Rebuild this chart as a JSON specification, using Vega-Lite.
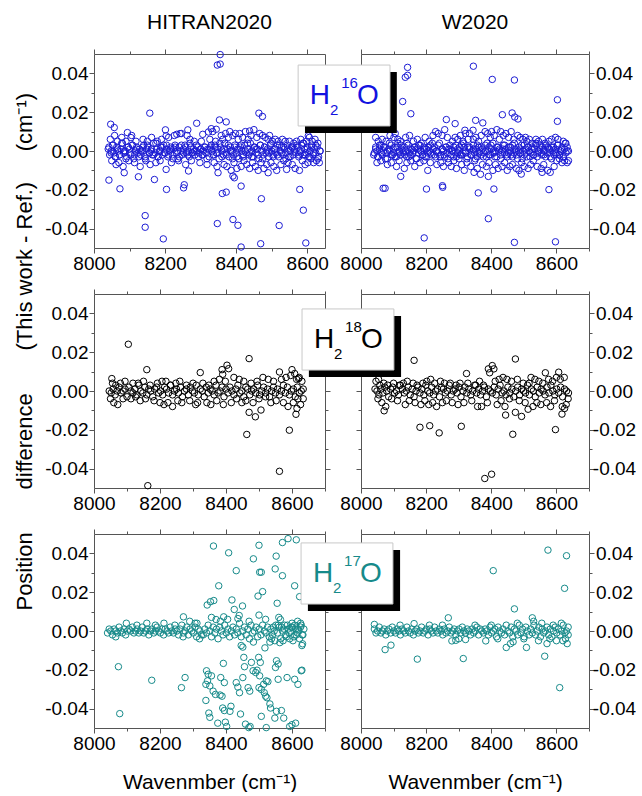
{
"$schema":"https://vega.github.io/schema/vega-lite/v6.json",
"background":"white",
"padding":{"left":13,"top":11,"right":0,"bottom":0},
"title":{"text":"Position\u00a0\u00a0\u00a0\u00a0\u00a0\u00a0\u00a0difference\u00a0\u00a0\u00a0\u00a0\u00a0\u00a0\u00a0(This work - Ref.)\u00a0\u00a0\u00a0\u00a0\u00a0(cm\u207b\u00b9)","orient":"left","anchor":"middle","fontSize":22,"fontWeight":"normal","font":"Liberation Sans","color":"black","offset":8,"dx":50},
"config":{"font":"Liberation Sans","view":{"stroke":null},
"axis":{"labelFont":"Liberation Sans","labelFontSize":19,"labelColor":"black","domainColor":"#555555","tickColor":"#555555","domainWidth":1,"tickWidth":1,"grid":false,"titleFont":"Liberation Sans","titleFontWeight":"normal","titleColor":"black","titleFontSize":21},
"title":{"font":"Liberation Sans","fontWeight":"normal","color":"black","fontSize":21}},
"datasets":{
"a":[{"w":8040,"d":0.001},{"w":8044,"d":-0.002},{"w":8048,"d":0},{"w":8052,"d":0.003},{"w":8056,"d":-0.001},{"w":8060,"d":-0.003},{"w":8064,"d":0.002},{"w":8068,"d":0},{"w":8072,"d":-0.002},{"w":8076,"d":0.001},
{"w":8080,"d":0.004},{"w":8084,"d":-0.001},{"w":8088,"d":0},{"w":8092,"d":-0.003},{"w":8096,"d":0.002},{"w":8100,"d":0.001},{"w":8104,"d":-0.002},{"w":8108,"d":0.003},{"w":8112,"d":-0.004},{"w":8116,"d":0},
{"w":8120,"d":0.002},{"w":8124,"d":-0.001},{"w":8128,"d":0.001},{"w":8132,"d":-0.002},{"w":8136,"d":0},{"w":8140,"d":0.003},{"w":8144,"d":-0.003},{"w":8148,"d":0.001},{"w":8152,"d":0.002},{"w":8156,"d":-0.001},
{"w":8160,"d":0},{"w":8164,"d":-0.002},{"w":8168,"d":0.004},{"w":8172,"d":-0.001},{"w":8176,"d":0.001},{"w":8180,"d":-0.003},{"w":8184,"d":0},{"w":8188,"d":0.002},{"w":8192,"d":-0.002},{"w":8196,"d":0.003},
{"w":8200,"d":-0.001},{"w":8204,"d":0.001},{"w":8208,"d":-0.003},{"w":8212,"d":0},{"w":8216,"d":0.002},{"w":8220,"d":-0.002},{"w":8224,"d":0.001},{"w":8228,"d":0.003},{"w":8232,"d":-0.001},{"w":8236,"d":-0.004},
{"w":8240,"d":0.002},{"w":8244,"d":0},{"w":8248,"d":-0.002},{"w":8252,"d":0.001},{"w":8256,"d":0.003},{"w":8260,"d":-0.001},{"w":8264,"d":0},{"w":8268,"d":-0.003},{"w":8272,"d":0.002},{"w":8276,"d":-0.001},
{"w":8280,"d":0.001},{"w":8284,"d":-0.002},{"w":8288,"d":0},{"w":8292,"d":0.002},{"w":8296,"d":-0.001},{"w":8300,"d":0.001},{"w":8304,"d":-0.002},{"w":8308,"d":0},{"w":8312,"d":0.002},{"w":8316,"d":-0.001},
{"w":8320,"d":0.001},{"w":8324,"d":-0.003},{"w":8328,"d":0.002},{"w":8332,"d":0},{"w":8336,"d":-0.002},{"w":8340,"d":0.003},{"w":8344,"d":-0.001},{"w":8348,"d":0.001},{"w":8352,"d":-0.004},{"w":8356,"d":0.002},
{"w":8360,"d":0},{"w":8364,"d":-0.002},{"w":8368,"d":0.004},{"w":8372,"d":-0.001},{"w":8376,"d":0.001},{"w":8380,"d":-0.003},{"w":8384,"d":0.002},{"w":8388,"d":0},{"w":8392,"d":-0.002},{"w":8396,"d":0.003},
{"w":8400,"d":-0.001},{"w":8404,"d":0.001},{"w":8408,"d":-0.004},{"w":8412,"d":0.002},{"w":8416,"d":0},{"w":8420,"d":-0.003},{"w":8424,"d":0.003},{"w":8428,"d":-0.001},{"w":8432,"d":0.001},{"w":8436,"d":-0.002},
{"w":8440,"d":0.004},{"w":8444,"d":0},{"w":8448,"d":-0.003},{"w":8452,"d":0.002},{"w":8456,"d":-0.001},{"w":8460,"d":0.001},{"w":8464,"d":-0.004},{"w":8468,"d":0.003},{"w":8472,"d":0},{"w":8476,"d":-0.002},
{"w":8480,"d":0.002},{"w":8484,"d":-0.001},{"w":8488,"d":0.001},{"w":8492,"d":-0.003},{"w":8496,"d":0.003},{"w":8500,"d":0},{"w":8504,"d":-0.002},{"w":8508,"d":0.001},{"w":8512,"d":-0.001},{"w":8516,"d":0.003},
{"w":8520,"d":-0.003},{"w":8524,"d":0},{"w":8528,"d":0.002},{"w":8532,"d":-0.002},{"w":8536,"d":0.001},{"w":8540,"d":-0.001},{"w":8544,"d":0.003},{"w":8548,"d":-0.003},{"w":8552,"d":0},{"w":8556,"d":0.002},
{"w":8560,"d":-0.002},{"w":8564,"d":0.001},{"w":8568,"d":-0.001},{"w":8572,"d":0.002},{"w":8576,"d":-0.003},{"w":8580,"d":0},{"w":8584,"d":0.003},{"w":8588,"d":-0.002},{"w":8592,"d":0.001},{"w":8596,"d":-0.001},
{"w":8600,"d":0.002},{"w":8604,"d":-0.003},{"w":8608,"d":0},{"w":8612,"d":0.003},{"w":8616,"d":-0.002},{"w":8620,"d":0.001},{"w":8624,"d":-0.001},{"w":8628,"d":0.002},{"w":8632,"d":-0.003},{"w":8636,"d":0},
{"w":8042,"d":0.002},{"w":8048,"d":-0.001},{"w":8054,"d":0.003},{"w":8060,"d":-0.003},{"w":8066,"d":0.001},{"w":8072,"d":-0.002},{"w":8078,"d":0.004},{"w":8084,"d":0},{"w":8090,"d":-0.004},{"w":8096,"d":0.002},
{"w":8102,"d":-0.001},{"w":8108,"d":0.003},{"w":8114,"d":-0.002},{"w":8120,"d":0.001},{"w":8126,"d":-0.003},{"w":8132,"d":0},{"w":8138,"d":0.002},{"w":8144,"d":-0.004},{"w":8150,"d":0.003},{"w":8156,"d":-0.001},
{"w":8162,"d":0.001},{"w":8168,"d":-0.002},{"w":8174,"d":0.004},{"w":8180,"d":-0.003},{"w":8186,"d":0},{"w":8192,"d":0.002},{"w":8198,"d":-0.001},{"w":8204,"d":0.003},{"w":8210,"d":-0.002},{"w":8216,"d":0.001},
{"w":8222,"d":-0.004},{"w":8228,"d":0.002},{"w":8234,"d":0},{"w":8240,"d":-0.003},{"w":8246,"d":0.003},{"w":8252,"d":-0.001},{"w":8258,"d":0.002},{"w":8264,"d":-0.002},{"w":8270,"d":0.004},{"w":8276,"d":-0.001},
{"w":8282,"d":0},{"w":8288,"d":0.003},{"w":8294,"d":-0.003},{"w":8300,"d":0.001},{"w":8306,"d":-0.002},{"w":8312,"d":0.002},{"w":8318,"d":-0.004},{"w":8324,"d":0.001},{"w":8330,"d":0.003},{"w":8336,"d":-0.002},
{"w":8342,"d":0.002},{"w":8348,"d":-0.001},{"w":8354,"d":0.004},{"w":8360,"d":-0.003},{"w":8366,"d":0.001},{"w":8372,"d":-0.002},{"w":8378,"d":0.003},{"w":8384,"d":0},{"w":8390,"d":-0.004},{"w":8396,"d":0.002},
{"w":8402,"d":-0.003},{"w":8408,"d":0.001},{"w":8414,"d":0.003},{"w":8420,"d":-0.002},{"w":8426,"d":0},{"w":8432,"d":0.004},{"w":8438,"d":-0.001},{"w":8444,"d":-0.003},{"w":8450,"d":0.002},{"w":8456,"d":0.001},
{"w":8462,"d":-0.002},{"w":8468,"d":0.003},{"w":8474,"d":-0.004},{"w":8480,"d":0.002},{"w":8486,"d":0},{"w":8492,"d":-0.001},{"w":8498,"d":0.004},{"w":8504,"d":-0.003},{"w":8510,"d":0.001},{"w":8516,"d":-0.002},
{"w":8522,"d":0.003},{"w":8528,"d":-0.001},{"w":8534,"d":0.002},{"w":8540,"d":-0.004},{"w":8546,"d":0.001},{"w":8552,"d":-0.003},{"w":8558,"d":0.002},{"w":8564,"d":0},{"w":8570,"d":0.003},{"w":8576,"d":-0.002},
{"w":8582,"d":-0.001},{"w":8588,"d":0.004},{"w":8594,"d":-0.002},{"w":8600,"d":0.001},{"w":8606,"d":-0.003},{"w":8612,"d":0.002},{"w":8618,"d":-0.001},{"w":8624,"d":0.003},{"w":8630,"d":-0.004},{"w":8636,"d":0},
{"w":8046,"d":0.006},{"w":8050,"d":-0.005},{"w":8058,"d":0.008},{"w":8062,"d":-0.007},{"w":8066,"d":0.005},{"w":8070,"d":-0.006},{"w":8078,"d":0.007},{"w":8082,"d":-0.008},{"w":8090,"d":0.005},{"w":8098,"d":-0.005},
{"w":8106,"d":0.008},{"w":8114,"d":-0.006},{"w":8118,"d":0.005},{"w":8130,"d":-0.008},{"w":8138,"d":0.006},{"w":8146,"d":-0.005},{"w":8150,"d":0.005},{"w":8158,"d":-0.007},{"w":8162,"d":0.007},{"w":8174,"d":-0.006},
{"w":8178,"d":0.005},{"w":8186,"d":-0.005},{"w":8190,"d":0.006},{"w":8210,"d":0.007},{"w":8218,"d":-0.006},{"w":8226,"d":0.008},{"w":8238,"d":-0.005},{"w":8242,"d":0.009},{"w":8246,"d":0.009},{"w":8258,"d":-0.007},
{"w":8262,"d":0.008},{"w":8270,"d":0.006},{"w":8274,"d":-0.005},{"w":8282,"d":0.005},{"w":8298,"d":-0.006},{"w":8302,"d":0.005},{"w":8318,"d":-0.007},{"w":8326,"d":0.006},{"w":8334,"d":0.01},{"w":8338,"d":-0.006},
{"w":8342,"d":0.005},{"w":8346,"d":-0.008},{"w":8358,"d":0.008},{"w":8362,"d":0.006},{"w":8366,"d":-0.007},{"w":8370,"d":0.009},{"w":8374,"d":-0.008},{"w":8378,"d":0.007},{"w":8382,"d":0.01},{"w":8386,"d":-0.01},
{"w":8390,"d":0.008},{"w":8394,"d":-0.006},{"w":8398,"d":0.009},{"w":8402,"d":-0.009},{"w":8406,"d":0.006},{"w":8410,"d":0.009},{"w":8414,"d":-0.008},{"w":8418,"d":0.007},{"w":8422,"d":-0.005},{"w":8426,"d":0.01},
{"w":8430,"d":-0.007},{"w":8434,"d":0.006},{"w":8438,"d":-0.009},{"w":8442,"d":0.008},{"w":8446,"d":-0.006},{"w":8450,"d":0.011},{"w":8454,"d":-0.008},{"w":8458,"d":0.007},{"w":8462,"d":-0.01},{"w":8466,"d":0.009},
{"w":8470,"d":-0.006},{"w":8474,"d":0.008},{"w":8478,"d":-0.009},{"w":8482,"d":0.007},{"w":8486,"d":-0.007},{"w":8490,"d":0.006},{"w":8494,"d":0.008},{"w":8498,"d":-0.006},{"w":8502,"d":0.005},{"w":8506,"d":-0.008},
{"w":8510,"d":0.006},{"w":8514,"d":-0.01},{"w":8518,"d":0.005},{"w":8526,"d":-0.007},{"w":8530,"d":0.006},{"w":8534,"d":-0.005},{"w":8538,"d":0.005},{"w":8546,"d":-0.006},{"w":8550,"d":0.005},{"w":8558,"d":-0.007},
{"w":8562,"d":0.004},{"w":8566,"d":-0.009},{"w":8570,"d":0.005},{"w":8578,"d":-0.01},{"w":8582,"d":0.006},{"w":8586,"d":-0.005},{"w":8590,"d":0.004},{"w":8594,"d":-0.007},{"w":8598,"d":0.005},{"w":8602,"d":-0.006},
{"w":8606,"d":0.007},{"w":8610,"d":-0.004},{"w":8614,"d":0.005},{"w":8618,"d":-0.006},{"w":8622,"d":0.006},{"w":8626,"d":-0.005},{"w":8630,"d":0.004},{"w":8634,"d":-0.006},
{"w":8042,"d":-0.015},{"w":8047,"d":0.0138},{"w":8057,"d":0.0121},{"w":8073,"d":-0.0195},{"w":8085,"d":-0.0112},{"w":8094,"d":0.0095},{"w":8104,"d":0.0069},{"w":8125,"d":-0.0133},{"w":8144,"d":-0.0333},{"w":8144,"d":-0.0393},
{"w":8157,"d":0.0195},{"w":8170,"d":-0.0147},{"w":8195,"d":-0.0453},{"w":8201,"d":0.0109},{"w":8203,"d":0.0078},{"w":8204,"d":-0.0198},{"w":8203,"d":-0.0095},{"w":8233,"d":0.0086},{"w":8252,"d":-0.019},{"w":8254,"d":-0.0174},
{"w":8264,"d":0.0109},{"w":8266,"d":-0.0103},{"w":8289,"d":0.0143},{"w":8306,"d":0.0086},{"w":8330,"d":0.0115},{"w":8344,"d":0.0112},{"w":8347,"d":-0.0374},{"w":8347,"d":0.0443},{"w":8355,"d":0.0448},{"w":8355,"d":0.0497},
{"w":8353,"d":0.016},{"w":8349,"d":-0.0112},{"w":8361,"d":-0.0219},{"w":8372,"d":-0.0212},{"w":8372,"d":0.015},{"w":8391,"d":-0.0129},{"w":8391,"d":-0.0353},{"w":8405,"d":-0.0383},{"w":8414,"d":-0.0181},{"w":8414,"d":-0.0495},
{"w":8438,"d":0.0103},{"w":8464,"d":0.0195},{"w":8474,"d":0.0178},{"w":8471,"d":-0.0246},{"w":8469,"d":-0.0478},{"w":8490,"d":-0.0112},{"w":8521,"d":-0.0384},{"w":8542,"d":-0.0095},{"w":8579,"d":-0.0198},{"w":8589,"d":-0.0305},
{"w":8596,"d":-0.0474},{"w":8603,"d":0.0078},{"w":8395,"d":-0.0138},{"w":8322,"d":0.0098}],
"b":[{"w":8041,"d":-0.001},{"w":8045,"d":0.002},{"w":8049,"d":0},{"w":8053,"d":-0.003},{"w":8057,"d":0.001},{"w":8061,"d":0.003},{"w":8065,"d":-0.002},{"w":8069,"d":0},{"w":8073,"d":0.002},{"w":8077,"d":-0.001},
{"w":8081,"d":-0.004},{"w":8085,"d":0.001},{"w":8089,"d":0},{"w":8093,"d":0.003},{"w":8097,"d":-0.002},{"w":8101,"d":-0.001},{"w":8105,"d":0.002},{"w":8109,"d":-0.003},{"w":8113,"d":0.004},{"w":8117,"d":0},
{"w":8121,"d":-0.002},{"w":8125,"d":0.001},{"w":8129,"d":-0.001},{"w":8133,"d":0.002},{"w":8137,"d":0},{"w":8141,"d":-0.003},{"w":8145,"d":0.003},{"w":8149,"d":-0.001},{"w":8153,"d":-0.002},{"w":8157,"d":0.001},
{"w":8161,"d":0},{"w":8165,"d":0.002},{"w":8169,"d":-0.004},{"w":8173,"d":0.001},{"w":8177,"d":-0.001},{"w":8181,"d":0.003},{"w":8185,"d":0},{"w":8189,"d":-0.002},{"w":8193,"d":0.002},{"w":8197,"d":-0.003},
{"w":8201,"d":0.001},{"w":8205,"d":-0.001},{"w":8209,"d":0},{"w":8213,"d":0.003},{"w":8217,"d":-0.002},{"w":8221,"d":0.001},{"w":8225,"d":0.002},{"w":8229,"d":-0.003},{"w":8233,"d":0},{"w":8237,"d":-0.001},
{"w":8241,"d":0.004},{"w":8245,"d":-0.002},{"w":8249,"d":0.001},{"w":8253,"d":0},{"w":8257,"d":-0.003},{"w":8261,"d":0.002},{"w":8265,"d":-0.001},{"w":8269,"d":0.001},{"w":8273,"d":0.003},{"w":8277,"d":-0.002},
{"w":8281,"d":0},{"w":8285,"d":0.002},{"w":8289,"d":-0.001},{"w":8293,"d":-0.003},{"w":8297,"d":0.001},{"w":8301,"d":0},{"w":8305,"d":-0.002},{"w":8309,"d":0.003},{"w":8313,"d":-0.001},{"w":8317,"d":0.002},
{"w":8321,"d":0},{"w":8325,"d":-0.004},{"w":8329,"d":0.002},{"w":8333,"d":0.001},{"w":8337,"d":-0.002},{"w":8341,"d":0},{"w":8345,"d":0.003},{"w":8349,"d":-0.001},{"w":8353,"d":0.001},{"w":8357,"d":-0.003},
{"w":8361,"d":0.002},{"w":8365,"d":0},{"w":8369,"d":-0.002},{"w":8373,"d":0.001},{"w":8377,"d":-0.001},{"w":8381,"d":0.003},{"w":8385,"d":-0.003},{"w":8389,"d":0},{"w":8393,"d":0.002},{"w":8397,"d":-0.002},
{"w":8401,"d":0.001},{"w":8405,"d":0.004},{"w":8409,"d":-0.001},{"w":8413,"d":0},{"w":8417,"d":-0.003},{"w":8421,"d":0.002},{"w":8425,"d":0.001},{"w":8429,"d":-0.002},{"w":8433,"d":0},{"w":8437,"d":0.003},
{"w":8441,"d":-0.001},{"w":8445,"d":0.001},{"w":8449,"d":-0.003},{"w":8453,"d":0.002},{"w":8457,"d":0},{"w":8461,"d":-0.002},{"w":8465,"d":0.003},{"w":8469,"d":-0.001},{"w":8473,"d":0.001},{"w":8477,"d":0},
{"w":8481,"d":-0.004},{"w":8485,"d":0.002},{"w":8489,"d":-0.001},{"w":8493,"d":0.003},{"w":8497,"d":0},{"w":8501,"d":-0.002},{"w":8505,"d":0.001},{"w":8509,"d":-0.003},{"w":8513,"d":0.002},{"w":8517,"d":0},
{"w":8521,"d":-0.001},{"w":8525,"d":0.002},{"w":8529,"d":-0.002},{"w":8533,"d":0.001},{"w":8537,"d":0.003},{"w":8541,"d":-0.003},{"w":8545,"d":0},{"w":8549,"d":0.001},{"w":8553,"d":-0.001},{"w":8557,"d":0.002},
{"w":8561,"d":-0.002},{"w":8565,"d":0},{"w":8569,"d":0.003},{"w":8573,"d":-0.001},{"w":8577,"d":0.001},{"w":8581,"d":-0.003},{"w":8585,"d":0.002},{"w":8589,"d":0},{"w":8593,"d":-0.002},{"w":8597,"d":0.001},
{"w":8601,"d":-0.001},{"w":8605,"d":0.003},{"w":8609,"d":-0.002},{"w":8613,"d":0},{"w":8617,"d":0.002},{"w":8621,"d":-0.003},{"w":8625,"d":0.001},{"w":8629,"d":-0.001},{"w":8633,"d":0.002},{"w":8637,"d":0},
{"w":8039,"d":-0.002},{"w":8045,"d":0.001},{"w":8051,"d":-0.003},{"w":8057,"d":0.003},{"w":8063,"d":-0.001},{"w":8069,"d":0.002},{"w":8075,"d":-0.004},{"w":8081,"d":0},{"w":8087,"d":0.004},{"w":8093,"d":-0.002},
{"w":8099,"d":0.001},{"w":8105,"d":-0.003},{"w":8111,"d":0.002},{"w":8117,"d":-0.001},{"w":8123,"d":0.003},{"w":8129,"d":0},{"w":8135,"d":-0.002},{"w":8141,"d":0.004},{"w":8147,"d":-0.003},{"w":8153,"d":0.001},
{"w":8159,"d":-0.001},{"w":8165,"d":0.002},{"w":8171,"d":-0.004},{"w":8177,"d":0.003},{"w":8183,"d":0},{"w":8189,"d":-0.002},{"w":8195,"d":0.001},{"w":8201,"d":-0.003},{"w":8207,"d":0.002},{"w":8213,"d":-0.001},
{"w":8219,"d":0.004},{"w":8225,"d":-0.002},{"w":8231,"d":0},{"w":8237,"d":0.003},{"w":8243,"d":-0.003},{"w":8249,"d":0.001},{"w":8255,"d":-0.002},{"w":8261,"d":0.002},{"w":8267,"d":-0.004},{"w":8273,"d":0.001},
{"w":8279,"d":0},{"w":8285,"d":-0.003},{"w":8291,"d":0.003},{"w":8297,"d":-0.001},{"w":8303,"d":0.002},{"w":8309,"d":-0.002},{"w":8315,"d":0.004},{"w":8321,"d":-0.001},{"w":8327,"d":-0.003},{"w":8333,"d":0.002},
{"w":8339,"d":-0.002},{"w":8345,"d":0.001},{"w":8351,"d":-0.004},{"w":8357,"d":0.003},{"w":8363,"d":-0.001},{"w":8369,"d":0.002},{"w":8375,"d":-0.003},{"w":8381,"d":0},{"w":8387,"d":0.004},{"w":8393,"d":-0.002},
{"w":8399,"d":0.003},{"w":8405,"d":-0.001},{"w":8411,"d":-0.003},{"w":8417,"d":0.002},{"w":8423,"d":0},{"w":8429,"d":-0.004},{"w":8435,"d":0.001},{"w":8441,"d":0.003},{"w":8447,"d":-0.002},{"w":8453,"d":-0.001},
{"w":8459,"d":0.002},{"w":8465,"d":-0.003},{"w":8471,"d":0.004},{"w":8477,"d":-0.002},{"w":8483,"d":0},{"w":8489,"d":0.001},{"w":8495,"d":-0.004},{"w":8501,"d":0.003},{"w":8507,"d":-0.001},{"w":8513,"d":0.002},
{"w":8519,"d":-0.003},{"w":8525,"d":0.001},{"w":8531,"d":-0.002},{"w":8537,"d":0.004},{"w":8543,"d":-0.001},{"w":8549,"d":0.003},{"w":8555,"d":-0.002},{"w":8561,"d":0},{"w":8567,"d":-0.003},{"w":8573,"d":0.002},
{"w":8579,"d":0.001},{"w":8585,"d":-0.004},{"w":8591,"d":0.002},{"w":8597,"d":-0.001},{"w":8603,"d":0.003},{"w":8609,"d":-0.002},{"w":8615,"d":0.001},{"w":8621,"d":-0.003},{"w":8627,"d":0.004},{"w":8633,"d":0},
{"w":8045,"d":0.007},{"w":8049,"d":-0.006},{"w":8053,"d":0.005},{"w":8061,"d":-0.005},{"w":8065,"d":0.006},{"w":8077,"d":0.005},{"w":8081,"d":-0.007},{"w":8089,"d":0.008},{"w":8093,"d":-0.006},{"w":8101,"d":0.007},
{"w":8105,"d":0.009},{"w":8109,"d":-0.008},{"w":8113,"d":0.006},{"w":8117,"d":-0.005},{"w":8121,"d":0.005},{"w":8133,"d":-0.009},{"w":8137,"d":0.007},{"w":8141,"d":-0.006},{"w":8149,"d":0.008},{"w":8153,"d":-0.005},
{"w":8161,"d":0.005},{"w":8165,"d":-0.008},{"w":8173,"d":0.006},{"w":8181,"d":-0.006},{"w":8185,"d":0.004},{"w":8193,"d":-0.005},{"w":8197,"d":0.007},{"w":8205,"d":-0.01},{"w":8209,"d":0.005},{"w":8213,"d":-0.006},
{"w":8221,"d":0.008},{"w":8229,"d":0.01},{"w":8233,"d":-0.007},{"w":8237,"d":0.009},{"w":8245,"d":-0.006},{"w":8249,"d":0.008},{"w":8253,"d":-0.008},{"w":8257,"d":0.011},{"w":8265,"d":0.007},{"w":8269,"d":-0.006},
{"w":8277,"d":-0.008},{"w":8281,"d":0.005},{"w":8285,"d":-0.005},{"w":8289,"d":0.007},{"w":8293,"d":-0.009},{"w":8297,"d":0.006},{"w":8301,"d":-0.004},{"w":8305,"d":0.008},{"w":8309,"d":-0.007},{"w":8313,"d":0.005},
{"w":8317,"d":-0.01},{"w":8321,"d":0.009},{"w":8325,"d":-0.006},{"w":8329,"d":0.006},{"w":8333,"d":0.009},{"w":8337,"d":-0.008},{"w":8345,"d":0.006},{"w":8349,"d":-0.005},{"w":8353,"d":0.007},{"w":8357,"d":-0.009},
{"w":8361,"d":0.005},{"w":8369,"d":0.008},{"w":8373,"d":-0.007},{"w":8381,"d":0.01},{"w":8385,"d":-0.008},{"w":8389,"d":0.009},{"w":8393,"d":-0.006},{"w":8397,"d":0.007},{"w":8401,"d":0.01},{"w":8405,"d":-0.01},
{"w":8409,"d":0.008},{"w":8413,"d":-0.007},{"w":8417,"d":0.011},{"w":8421,"d":-0.009},{"w":8425,"d":0.006},{"w":8429,"d":0.01},{"w":8433,"d":-0.008},{"w":8437,"d":0.008},{"w":8441,"d":-0.006},{"w":8445,"d":0.009},
{"w":8449,"d":-0.01},{"w":8453,"d":0.007},{"w":8457,"d":-0.008},{"w":8461,"d":0.01},{"w":8465,"d":-0.007},{"w":8469,"d":0.006},{"w":8477,"d":-0.009},{"w":8481,"d":0.008},{"w":8485,"d":-0.01},{"w":8489,"d":0.007},
{"w":8493,"d":-0.006},{"w":8497,"d":0.006},{"w":8501,"d":-0.008},{"w":8505,"d":0.007},{"w":8509,"d":0.005},{"w":8513,"d":-0.009},{"w":8517,"d":0.006},{"w":8521,"d":-0.007},{"w":8525,"d":0.004},{"w":8529,"d":-0.005},
{"w":8537,"d":0.006},{"w":8541,"d":-0.008},{"w":8545,"d":0.005},{"w":8553,"d":-0.009},{"w":8557,"d":0.006},{"w":8561,"d":-0.007},{"w":8565,"d":0.004},{"w":8573,"d":-0.01},{"w":8577,"d":0.005},{"w":8581,"d":-0.011},
{"w":8585,"d":0.006},{"w":8593,"d":-0.008},{"w":8597,"d":0.007},{"w":8601,"d":-0.005},{"w":8605,"d":0.006},{"w":8609,"d":-0.004},{"w":8617,"d":-0.006},{"w":8621,"d":0.005},{"w":8625,"d":-0.005},{"w":8629,"d":0.004},
{"w":8633,"d":-0.006},{"w":8637,"d":-0.005},
{"w":8143,"d":0.0431},{"w":8143,"d":0.039},{"w":8136,"d":0.038},{"w":8128,"d":0.0255},{"w":8153,"d":0.0192},{"w":8122,"d":-0.0131},{"w":8068,"d":-0.0192},{"w":8074,"d":-0.0192},{"w":8194,"d":-0.0448},{"w":8201,"d":-0.0196},
{"w":8250,"d":-0.0179},{"w":8251,"d":-0.0187},{"w":8262,"d":0.0162},{"w":8289,"d":0.0141},{"w":8319,"d":0.0107},{"w":8344,"d":0.0107},{"w":8345,"d":0.0437},{"w":8352,"d":0.0158},{"w":8374,"d":0.0145},{"w":8347,"d":-0.011},
{"w":8367,"d":-0.012},{"w":8360,"d":-0.0216},{"w":8391,"d":-0.0131},{"w":8391,"d":-0.0349},{"w":8403,"d":0.0369},{"w":8408,"d":-0.0196},{"w":8434,"d":0.0187},{"w":8464,"d":0.0196},{"w":8472,"d":0.0175},{"w":8482,"d":0.0165},
{"w":8471,"d":0.0366},{"w":8471,"d":-0.0471},{"w":8492,"d":-0.0119},{"w":8577,"d":-0.0199},{"w":8597,"d":-0.0468},{"w":8603,"d":0.0264},{"w":8603,"d":0.0153},{"w":8556,"d":-0.011}],
"c":[{"w":8046,"d":0},{"w":8052,"d":-0.001},{"w":8058,"d":0.001},{"w":8064,"d":-0.002},{"w":8070,"d":0},{"w":8076,"d":0.002},{"w":8082,"d":-0.001},{"w":8088,"d":0},{"w":8094,"d":0.001},{"w":8100,"d":-0.003},
{"w":8106,"d":0.002},{"w":8112,"d":0},{"w":8118,"d":-0.001},{"w":8124,"d":0.001},{"w":8130,"d":-0.002},{"w":8136,"d":0.003},{"w":8142,"d":0},{"w":8148,"d":-0.001},{"w":8154,"d":0.002},{"w":8160,"d":-0.002},
{"w":8166,"d":0.001},{"w":8172,"d":0},{"w":8178,"d":-0.003},{"w":8184,"d":0.001},{"w":8190,"d":0.002},{"w":8196,"d":-0.001},{"w":8202,"d":0},{"w":8208,"d":-0.002},{"w":8214,"d":0.002},{"w":8220,"d":0.001},
{"w":8226,"d":-0.001},{"w":8232,"d":0.003},{"w":8238,"d":-0.002},{"w":8244,"d":0},{"w":8250,"d":0.001},{"w":8256,"d":-0.001},{"w":8262,"d":0.002},{"w":8268,"d":-0.003},{"w":8274,"d":0},{"w":8280,"d":0.001},
{"w":8286,"d":-0.002},{"w":8292,"d":0.002},{"w":8298,"d":0},{"w":8304,"d":-0.001},{"w":8310,"d":0.003},{"w":8316,"d":-0.002},{"w":8322,"d":0.001},{"w":8328,"d":0},{"w":8334,"d":-0.003},{"w":8340,"d":0.002},
{"w":8346,"d":-0.001},{"w":8352,"d":0.001},{"w":8358,"d":0},{"w":8364,"d":-0.002},{"w":8370,"d":0.003},{"w":8376,"d":-0.001},{"w":8382,"d":0},{"w":8388,"d":0.002},{"w":8394,"d":-0.003},{"w":8400,"d":0.001},
{"w":8406,"d":-0.001},{"w":8412,"d":0.002},{"w":8418,"d":0},{"w":8424,"d":-0.002},{"w":8430,"d":0.001},{"w":8436,"d":0.003},{"w":8442,"d":-0.001},{"w":8448,"d":0},{"w":8454,"d":-0.003},{"w":8460,"d":0.002},
{"w":8466,"d":0.001},{"w":8472,"d":-0.002},{"w":8478,"d":0},{"w":8484,"d":0.001},{"w":8490,"d":-0.001},{"w":8496,"d":0.003},{"w":8502,"d":-0.002},{"w":8508,"d":0},{"w":8514,"d":0.002},{"w":8520,"d":-0.001},
{"w":8526,"d":0.001},{"w":8532,"d":-0.003},{"w":8538,"d":0},{"w":8544,"d":0.002},{"w":8550,"d":-0.001},{"w":8556,"d":0.001},{"w":8562,"d":-0.002},{"w":8568,"d":0},{"w":8574,"d":0.003},{"w":8580,"d":-0.001},
{"w":8586,"d":0.002},{"w":8592,"d":-0.002},{"w":8598,"d":0},{"w":8604,"d":0.001},{"w":8610,"d":-0.003},{"w":8616,"d":0.002},{"w":8622,"d":-0.001},{"w":8628,"d":0},{"w":8634,"d":0.001},
{"w":8050,"d":-0.004},{"w":8056,"d":0.004},{"w":8060,"d":-0.006},{"w":8066,"d":0.003},{"w":8072,"d":-0.007},{"w":8080,"d":0.004},{"w":8088,"d":-0.004},{"w":8094,"d":0.005},{"w":8112,"d":-0.004},{"w":8118,"d":0.004},
{"w":8126,"d":-0.003},{"w":8134,"d":0.004},{"w":8140,"d":-0.005},{"w":8150,"d":0.005},{"w":8156,"d":-0.004},{"w":8170,"d":0.003},{"w":8182,"d":-0.005},{"w":8192,"d":0.004},{"w":8200,"d":-0.006},{"w":8206,"d":0.005},
{"w":8212,"d":-0.007},{"w":8218,"d":0.005},{"w":8224,"d":-0.006},{"w":8232,"d":0.003},{"w":8238,"d":-0.008},{"w":8248,"d":0.004},{"w":8254,"d":-0.005},{"w":8260,"d":0.005},{"w":8266,"d":-0.006},{"w":8280,"d":0.003},
{"w":8290,"d":-0.005},{"w":8300,"d":0.004},{"w":8308,"d":-0.007},{"w":8314,"d":-0.006},{"w":8330,"d":0.004},{"w":8342,"d":-0.006},{"w":8348,"d":0.003},{"w":8354,"d":-0.007},{"w":8364,"d":0.005},{"w":8372,"d":-0.005},
{"w":8380,"d":0.006},{"w":8392,"d":-0.007},{"w":8398,"d":0.005},{"w":8416,"d":-0.006},{"w":8424,"d":0.007},{"w":8432,"d":-0.004},{"w":8440,"d":0.006},{"w":8448,"d":-0.006},{"w":8454,"d":0.005},{"w":8460,"d":-0.005},
{"w":8476,"d":0.004},{"w":8482,"d":-0.006},{"w":8494,"d":0.005},{"w":8500,"d":-0.004},{"w":8512,"d":0.007},{"w":8520,"d":-0.003},{"w":8528,"d":0.006},{"w":8536,"d":-0.006},{"w":8544,"d":0.005},{"w":8552,"d":-0.005},
{"w":8568,"d":0.006},{"w":8574,"d":-0.006},{"w":8582,"d":0.007},{"w":8588,"d":-0.008},{"w":8596,"d":0.008},{"w":8604,"d":-0.006},{"w":8608,"d":0.009},{"w":8614,"d":0.006},{"w":8618,"d":-0.004},{"w":8622,"d":0.007},
{"w":8626,"d":-0.007},{"w":8630,"d":0.005},{"w":8634,"d":-0.004},
{"w":8054,"d":0.0064},{"w":8104,"d":0.0241},{"w":8160,"d":0.011},{"w":8163,"d":-0.0488},{"w":8322,"d":0.0095},{"w":8388,"d":0.011},{"w":8390,"d":0.0086},{"w":8403,"d":0.0133},{"w":8408,"d":0.0115},{"w":8470,"d":0.0167},
{"w":8463,"d":-0.0224},{"w":8470,"d":-0.011},{"w":8489,"d":-0.0133},{"w":8506,"d":-0.0098},{"w":8562,"d":-0.0414},{"w":8562,"d":0.0098},{"w":8592,"d":-0.0202},{"w":8600,"d":0.011},{"w":8612,"d":-0.012},{"w":8615,"d":-0.009},
{"w":8620,"d":0.0064}],
"d":[{"w":8043,"d":0.001},{"w":8049,"d":0},{"w":8055,"d":-0.002},{"w":8061,"d":0.001},{"w":8067,"d":-0.001},{"w":8073,"d":0.002},{"w":8079,"d":0},{"w":8085,"d":-0.003},{"w":8091,"d":0.001},{"w":8097,"d":0.002},
{"w":8103,"d":-0.001},{"w":8109,"d":0},{"w":8115,"d":-0.002},{"w":8121,"d":0.003},{"w":8127,"d":0.001},{"w":8133,"d":-0.001},{"w":8139,"d":0},{"w":8145,"d":0.002},{"w":8151,"d":-0.002},{"w":8157,"d":0.001},
{"w":8163,"d":-0.003},{"w":8169,"d":0},{"w":8175,"d":0.002},{"w":8181,"d":-0.001},{"w":8187,"d":0.001},{"w":8193,"d":-0.002},{"w":8199,"d":0.003},{"w":8205,"d":0},{"w":8211,"d":-0.001},{"w":8217,"d":0.002},
{"w":8223,"d":-0.002},{"w":8229,"d":0},{"w":8235,"d":0.001},{"w":8241,"d":-0.003},{"w":8247,"d":0.002},{"w":8253,"d":0.001},{"w":8259,"d":-0.001},{"w":8265,"d":0},{"w":8271,"d":0.003},{"w":8277,"d":-0.002},
{"w":8283,"d":0},{"w":8289,"d":0.001},{"w":8295,"d":-0.001},{"w":8301,"d":0.002},{"w":8307,"d":-0.003},{"w":8313,"d":0},{"w":8319,"d":0.002},{"w":8325,"d":-0.001},{"w":8331,"d":0.001},{"w":8337,"d":-0.002},
{"w":8343,"d":0},{"w":8349,"d":0.003},{"w":8355,"d":-0.001},{"w":8361,"d":0.001},{"w":8367,"d":-0.002},{"w":8373,"d":0},{"w":8379,"d":0.002},{"w":8385,"d":-0.003},{"w":8391,"d":0.001},{"w":8397,"d":0},
{"w":8403,"d":-0.001},{"w":8409,"d":0.002},{"w":8415,"d":-0.002},{"w":8421,"d":0.001},{"w":8427,"d":0.003},{"w":8433,"d":-0.001},{"w":8439,"d":0},{"w":8445,"d":-0.002},{"w":8451,"d":0.002},{"w":8457,"d":-0.001},
{"w":8463,"d":0.001},{"w":8469,"d":-0.003},{"w":8475,"d":0},{"w":8481,"d":0.002},{"w":8487,"d":-0.002},{"w":8493,"d":0.001},{"w":8499,"d":0},{"w":8505,"d":-0.001},{"w":8511,"d":0.003},{"w":8517,"d":-0.002},
{"w":8523,"d":0.001},{"w":8529,"d":0},{"w":8535,"d":-0.003},{"w":8541,"d":0.002},{"w":8547,"d":-0.001},{"w":8553,"d":0.001},{"w":8559,"d":0},{"w":8565,"d":-0.002},{"w":8571,"d":0.002},{"w":8577,"d":-0.001},
{"w":8583,"d":0.003},{"w":8589,"d":0},{"w":8595,"d":-0.002},{"w":8601,"d":0.001},{"w":8607,"d":-0.001},{"w":8613,"d":0.002},{"w":8619,"d":-0.003},{"w":8625,"d":0.001},{"w":8631,"d":0},{"w":8637,"d":-0.001},
{"w":8046,"d":0.005},{"w":8052,"d":-0.004},{"w":8058,"d":0.003},{"w":8064,"d":-0.006},{"w":8070,"d":0.004},{"w":8076,"d":-0.008},{"w":8082,"d":0.003},{"w":8094,"d":-0.004},{"w":8100,"d":0.004},{"w":8112,"d":-0.005},
{"w":8118,"d":0.003},{"w":8130,"d":0.004},{"w":8136,"d":-0.007},{"w":8142,"d":0.005},{"w":8148,"d":-0.005},{"w":8160,"d":0.004},{"w":8166,"d":-0.006},{"w":8172,"d":0.003},{"w":8184,"d":-0.007},{"w":8190,"d":0.004},
{"w":8196,"d":-0.005},{"w":8202,"d":0.005},{"w":8208,"d":-0.007},{"w":8214,"d":0.006},{"w":8220,"d":-0.006},{"w":8226,"d":0.004},{"w":8232,"d":-0.008},{"w":8244,"d":0.005},{"w":8250,"d":-0.006},{"w":8256,"d":0.004},
{"w":8262,"d":-0.005},{"w":8274,"d":0.004},{"w":8280,"d":-0.006},{"w":8292,"d":0.003},{"w":8298,"d":-0.007},{"w":8304,"d":0.004},{"w":8316,"d":-0.006},{"w":8328,"d":0.004},{"w":8340,"d":-0.005},{"w":8352,"d":0.003},
{"w":8358,"d":-0.008},{"w":8364,"d":0.005},{"w":8370,"d":-0.008},{"w":8376,"d":0.003},{"w":8388,"d":-0.006},{"w":8412,"d":0.005},{"w":8418,"d":-0.007},{"w":8424,"d":0.006},{"w":8430,"d":-0.005},{"w":8436,"d":0.007},
{"w":8442,"d":-0.008},{"w":8448,"d":0.006},{"w":8456,"d":-0.004},{"w":8462,"d":0.005},{"w":8480,"d":0.006},{"w":8486,"d":-0.005},{"w":8498,"d":0.004},{"w":8504,"d":-0.006},{"w":8516,"d":0.004},{"w":8522,"d":0.007},
{"w":8528,"d":-0.008},{"w":8534,"d":0.006},{"w":8540,"d":-0.006},{"w":8546,"d":0.005},{"w":8552,"d":-0.007},{"w":8558,"d":0.004},{"w":8570,"d":-0.006},{"w":8576,"d":0.006},{"w":8582,"d":-0.008},{"w":8588,"d":0.005},
{"w":8594,"d":-0.005},{"w":8600,"d":0.007},{"w":8612,"d":0.006},{"w":8618,"d":-0.008},{"w":8624,"d":0.007},{"w":8630,"d":-0.007},{"w":8636,"d":-0.004},
{"w":8054,"d":0.006},{"w":8163,"d":0.0158},{"w":8071,"d":-0.0102},{"w":8181,"d":-0.0187},{"w":8211,"d":-0.0179},{"w":8240,"d":-0.0216},{"w":8308,"d":-0.0182},{"w":8324,"d":0.009},{"w":8391,"d":0.0114},{"w":8395,"d":0.0094},
{"w":8403,"d":0.0131},{"w":8408,"d":0.0114},{"w":8380,"d":-0.0451},{"w":8401,"d":-0.0429},{"w":8444,"d":-0.0124},{"w":8474,"d":0.0165},{"w":8466,"d":-0.0223},{"w":8474,"d":-0.011},{"w":8493,"d":-0.0131},{"w":8513,"d":-0.0094},
{"w":8597,"d":-0.0199},{"w":8617,"d":-0.0119},{"w":8566,"d":0.0094},{"w":8607,"d":0.0097},{"w":8625,"d":-0.009}],
"e":[{"w":8041,"d":-0.001},{"w":8046,"d":0.001},{"w":8051,"d":0},{"w":8056,"d":-0.002},{"w":8061,"d":0.001},{"w":8066,"d":0},{"w":8071,"d":-0.001},{"w":8076,"d":0.002},{"w":8081,"d":0},{"w":8086,"d":-0.001},
{"w":8091,"d":0.001},{"w":8096,"d":-0.002},{"w":8101,"d":0},{"w":8106,"d":0.001},{"w":8111,"d":0},{"w":8116,"d":0.002},{"w":8121,"d":-0.001},{"w":8126,"d":0},{"w":8131,"d":0.001},{"w":8136,"d":-0.001},
{"w":8141,"d":0},{"w":8146,"d":0.002},{"w":8151,"d":-0.001},{"w":8156,"d":0},{"w":8161,"d":0.001},{"w":8166,"d":-0.002},{"w":8171,"d":0},{"w":8176,"d":0.001},{"w":8181,"d":-0.001},{"w":8186,"d":0},
{"w":8191,"d":0.002},{"w":8196,"d":0},{"w":8201,"d":-0.001},{"w":8206,"d":0.001},{"w":8211,"d":-0.002},{"w":8216,"d":0.001},{"w":8221,"d":0},{"w":8226,"d":-0.001},{"w":8231,"d":0.002},{"w":8236,"d":0},
{"w":8241,"d":-0.001},{"w":8246,"d":0.001},{"w":8251,"d":0},{"w":8256,"d":-0.002},{"w":8261,"d":0.001},{"w":8266,"d":0.003},{"w":8271,"d":-0.001},{"w":8276,"d":0},{"w":8281,"d":0.002},{"w":8286,"d":-0.002},
{"w":8291,"d":0.001},{"w":8296,"d":0},{"w":8301,"d":-0.001},{"w":8306,"d":0.002},{"w":8311,"d":-0.003},{"w":8316,"d":0.001},{"w":8321,"d":0},{"w":8326,"d":-0.002},
{"w":8098,"d":0.004},{"w":8160,"d":0.004},{"w":8212,"d":0.004},{"w":8245,"d":0.003},{"w":8290,"d":0.005},{"w":8306,"d":0.004},{"w":8320,"d":-0.004},{"w":8312,"d":0.004},{"w":8270,"d":-0.003},{"w":8066,"d":-0.003},{"w":8130,"d":0.003},{"w":8186,"d":0.003},
{"w":8331,"d":-0.002},{"w":8336,"d":0.001},{"w":8341,"d":-0.001},{"w":8346,"d":0.003},{"w":8351,"d":0},{"w":8356,"d":-0.003},{"w":8361,"d":0.002},{"w":8366,"d":-0.001},{"w":8371,"d":0.001},{"w":8376,"d":-0.004},
{"w":8381,"d":0.002},{"w":8386,"d":0},{"w":8391,"d":-0.002},{"w":8396,"d":0.003},{"w":8401,"d":-0.001},{"w":8406,"d":0.001},{"w":8411,"d":-0.003},{"w":8416,"d":0},{"w":8421,"d":0.002},{"w":8426,"d":-0.002},
{"w":8431,"d":0.001},{"w":8436,"d":-0.001},{"w":8441,"d":0.004},{"w":8446,"d":-0.003},{"w":8451,"d":0},{"w":8456,"d":0.002},{"w":8461,"d":-0.002},{"w":8466,"d":0.001},{"w":8471,"d":-0.004},{"w":8476,"d":0.003},
{"w":8481,"d":-0.001},{"w":8486,"d":0},{"w":8491,"d":0.002},{"w":8496,"d":-0.003},{"w":8501,"d":0.001},{"w":8506,"d":-0.002},{"w":8511,"d":0.003},{"w":8516,"d":0},{"w":8521,"d":-0.001},{"w":8526,"d":0.002},
{"w":8531,"d":-0.003},{"w":8536,"d":0.001},{"w":8541,"d":-0.002},{"w":8546,"d":0},{"w":8551,"d":0.003},{"w":8556,"d":-0.001},{"w":8561,"d":0.002},{"w":8566,"d":-0.004},{"w":8571,"d":0},{"w":8576,"d":0.001},
{"w":8581,"d":-0.002},{"w":8586,"d":0.003},{"w":8591,"d":-0.001},{"w":8596,"d":0},{"w":8601,"d":0.002},{"w":8606,"d":-0.003},{"w":8611,"d":0.001},{"w":8616,"d":-0.001},{"w":8621,"d":0},{"w":8626,"d":0.002},
{"w":8631,"d":-0.002},{"w":8636,"d":0.001},
{"w":8538,"d":-0.004},{"w":8543,"d":0.002},{"w":8548,"d":-0.005},{"w":8558,"d":0.003},{"w":8563,"d":-0.006},{"w":8568,"d":0.002},{"w":8573,"d":-0.005},{"w":8578,"d":0.003},{"w":8583,"d":-0.003},{"w":8588,"d":0.001},
{"w":8593,"d":-0.004},{"w":8598,"d":0.002},{"w":8603,"d":-0.005},{"w":8608,"d":0.003},{"w":8613,"d":-0.002},{"w":8618,"d":0.001},{"w":8623,"d":-0.004},{"w":8628,"d":0.003},{"w":8633,"d":-0.002},
{"w":8356,"d":0.007},{"w":8383,"d":0.005},{"w":8405,"d":0.006},{"w":8440,"d":0.008},{"w":8470,"d":0.005},{"w":8520,"d":0.006},{"w":8560,"d":0.007},{"w":8600,"d":0.004},{"w":8617,"d":0.005},{"w":8626,"d":0.004},
{"w":8362,"d":0.0438},{"w":8500,"d":0.0442},{"w":8571,"d":0.0456},{"w":8588,"d":0.0476},{"w":8613,"d":0.047},{"w":8408,"d":0.0403},{"w":8483,"d":0.0372},{"w":8552,"d":0.0386},{"w":8431,"d":0.0311},{"w":8502,"d":0.0303},
{"w":8507,"d":0.0303},{"w":8549,"d":0.032},{"w":8571,"d":0.0285},{"w":8378,"d":0.0233},{"w":8511,"d":0.0203},{"w":8497,"d":0.018},{"w":8608,"d":0.0233},{"w":8623,"d":0.0177},{"w":8418,"d":0.016},{"w":8343,"d":0.0134},
{"w":8353,"d":0.0151},{"w":8363,"d":0.0157},{"w":8425,"d":0.0111},{"w":8450,"d":0.0129},{"w":8555,"d":0.0143},{"w":8393,"d":0.0073},{"w":8436,"d":0.0064},{"w":8500,"d":0.0082},{"w":8565,"d":0.0059},{"w":8271,"d":0.0073},
{"w":8370,"d":0.0059},{"w":8074,"d":-0.0184},{"w":8078,"d":-0.0426},{"w":8175,"d":-0.0254},{"w":8265,"d":-0.0292},{"w":8276,"d":-0.024},{"w":8341,"d":-0.0205},{"w":8346,"d":-0.0223},{"w":8344,"d":-0.0257},{"w":8339,"d":-0.0275},
{"w":8351,"d":-0.0283},{"w":8356,"d":-0.0231},{"w":8339,"d":-0.0358},{"w":8348,"d":-0.0423},{"w":8351,"d":-0.0445},{"w":8361,"d":-0.031},{"w":8368,"d":-0.0327},{"w":8375,"d":-0.0475},{"w":8382,"d":-0.033},{"w":8388,"d":-0.0336},
{"w":8390,"d":-0.0397},{"w":8395,"d":-0.041},{"w":8392,"d":-0.0167},{"w":8384,"d":-0.024},{"w":8395,"d":-0.0266},{"w":8398,"d":-0.047},{"w":8402,"d":-0.0492},{"w":8412,"d":-0.0414},{"w":8415,"d":-0.0388},{"w":8431,"d":-0.0266},
{"w":8436,"d":-0.0289},{"w":8441,"d":-0.0318},{"w":8444,"d":-0.0428},{"w":8446,"d":-0.0075},{"w":8451,"d":-0.0083},{"w":8451,"d":-0.024},{"w":8456,"d":-0.0184},{"w":8454,"d":-0.0136},{"w":8459,"d":-0.048},{"w":8469,"d":-0.0498},
{"w":8473,"d":-0.0492},{"w":8467,"d":-0.0292},{"w":8472,"d":-0.031},{"w":8477,"d":-0.0162},{"w":8482,"d":-0.0205},{"w":8483,"d":-0.0057},{"w":8490,"d":-0.0214},{"w":8494,"d":-0.0202},{"w":8499,"d":-0.0136},{"w":8504,"d":-0.0162},
{"w":8500,"d":-0.0292},{"w":8507,"d":-0.0301},{"w":8502,"d":-0.0231},{"w":8514,"d":-0.0275},{"w":8516,"d":-0.0318},{"w":8520,"d":-0.0336},{"w":8522,"d":-0.0257},{"w":8527,"d":-0.0261},{"w":8524,"d":-0.0344},{"w":8533,"d":-0.0376},
{"w":8535,"d":-0.0397},{"w":8507,"d":-0.044},{"w":8522,"d":-0.0498},{"w":8548,"d":-0.0449},{"w":8553,"d":-0.0414},{"w":8553,"d":-0.0153},{"w":8558,"d":-0.017},{"w":8550,"d":-0.0188},{"w":8558,"d":-0.0249},{"w":8568,"d":-0.041},
{"w":8575,"d":-0.0449},{"w":8585,"d":-0.024},{"w":8593,"d":-0.0492},{"w":8600,"d":-0.0483},{"w":8611,"d":-0.0475},{"w":8608,"d":-0.0249},{"w":8618,"d":-0.0275},{"w":8628,"d":-0.0205},{"w":8630,"d":-0.0202},{"w":8518,"d":-0.0087},
{"w":8533,"d":-0.0057},{"w":8630,"d":-0.0075},{"w":8632,"d":-0.0066}],
"f":[{"w":8041,"d":0.001},{"w":8046,"d":-0.001},{"w":8051,"d":0},{"w":8056,"d":0.002},{"w":8061,"d":-0.001},{"w":8066,"d":0},{"w":8071,"d":0.001},{"w":8076,"d":-0.002},{"w":8081,"d":0},{"w":8086,"d":0.001},
{"w":8091,"d":-0.001},{"w":8096,"d":0.002},{"w":8101,"d":0},{"w":8106,"d":-0.001},{"w":8111,"d":0.001},{"w":8116,"d":0},{"w":8121,"d":-0.002},{"w":8126,"d":0.001},{"w":8131,"d":0},{"w":8136,"d":-0.001},
{"w":8141,"d":0.002},{"w":8146,"d":0},{"w":8151,"d":-0.001},{"w":8156,"d":0.001},{"w":8161,"d":-0.002},{"w":8166,"d":0},{"w":8171,"d":0.001},{"w":8176,"d":-0.001},{"w":8181,"d":0},{"w":8186,"d":0.002},
{"w":8191,"d":-0.001},{"w":8196,"d":0},{"w":8201,"d":0.001},{"w":8206,"d":-0.002},{"w":8211,"d":0.001},{"w":8216,"d":0},{"w":8221,"d":-0.001},{"w":8226,"d":0.002},{"w":8231,"d":0},{"w":8236,"d":-0.001},
{"w":8241,"d":0.001},{"w":8246,"d":0},{"w":8251,"d":-0.002},{"w":8256,"d":0.001},{"w":8261,"d":-0.001},{"w":8266,"d":0},{"w":8271,"d":0.002},{"w":8276,"d":-0.001},{"w":8281,"d":0},{"w":8286,"d":0.001},
{"w":8291,"d":-0.002},{"w":8296,"d":0},{"w":8301,"d":0.001},{"w":8306,"d":-0.001},{"w":8311,"d":0.002},{"w":8316,"d":0},{"w":8321,"d":-0.001},{"w":8326,"d":0.001},{"w":8331,"d":0},{"w":8336,"d":-0.002},
{"w":8341,"d":0.001},{"w":8346,"d":-0.001},{"w":8351,"d":0},{"w":8356,"d":0.002},{"w":8361,"d":-0.002},{"w":8366,"d":0.001},{"w":8371,"d":0},{"w":8376,"d":-0.001},{"w":8381,"d":0.001},{"w":8386,"d":0},
{"w":8391,"d":-0.002},{"w":8396,"d":0.002},{"w":8401,"d":-0.001},{"w":8406,"d":0},{"w":8411,"d":0.001},{"w":8416,"d":-0.003},{"w":8421,"d":0.002},{"w":8426,"d":0},{"w":8431,"d":-0.001},{"w":8436,"d":0.001},
{"w":8441,"d":-0.002},{"w":8446,"d":0.003},{"w":8451,"d":0},{"w":8456,"d":-0.001},{"w":8461,"d":0.002},{"w":8466,"d":-0.003},{"w":8471,"d":0.001},{"w":8476,"d":0},{"w":8481,"d":-0.002},{"w":8486,"d":0.003},
{"w":8491,"d":-0.001},{"w":8496,"d":0.001},{"w":8501,"d":-0.003},{"w":8506,"d":0.002},{"w":8511,"d":0},{"w":8516,"d":-0.002},{"w":8521,"d":0.001},{"w":8526,"d":-0.001},{"w":8531,"d":0.003},{"w":8536,"d":-0.002},
{"w":8541,"d":0},{"w":8546,"d":0.002},{"w":8551,"d":-0.003},{"w":8556,"d":0.001},{"w":8561,"d":-0.001},{"w":8566,"d":0},{"w":8571,"d":0.002},{"w":8576,"d":-0.002},{"w":8581,"d":0.001},{"w":8586,"d":-0.003},
{"w":8591,"d":0},{"w":8596,"d":0.002},{"w":8601,"d":-0.001},{"w":8606,"d":0.001},{"w":8611,"d":-0.002},{"w":8616,"d":0},{"w":8621,"d":0.003},{"w":8626,"d":-0.001},{"w":8631,"d":0},{"w":8636,"d":-0.002},
{"w":8120,"d":0.003},{"w":8210,"d":0.003},{"w":8250,"d":0.003},{"w":8300,"d":-0.004},{"w":8350,"d":0.003},{"w":8400,"d":0.003},{"w":8420,"d":-0.004},{"w":8480,"d":0.004},{"w":8500,"d":-0.004},{"w":8530,"d":0.005},
{"w":8545,"d":-0.005},{"w":8555,"d":0.004},{"w":8580,"d":-0.004},{"w":8590,"d":0.003},{"w":8600,"d":-0.005},{"w":8615,"d":0.004},{"w":8620,"d":-0.005},{"w":8628,"d":-0.004},{"w":8636,"d":0.002},
{"w":8574,"d":0.0417},{"w":8631,"d":0.0388},{"w":8625,"d":0.022},{"w":8406,"d":0.0311},{"w":8471,"d":0.0114},{"w":8526,"d":0.0068},{"w":8268,"d":0.0068},{"w":8041,"d":0.0034},{"w":8163,"d":0.0038},{"w":8074,"d":-0.0096},
{"w":8092,"d":-0.0073},{"w":8173,"d":-0.0145},{"w":8314,"d":-0.0142},{"w":8446,"d":-0.0085},{"w":8459,"d":-0.0065},{"w":8467,"d":-0.0056},{"w":8508,"d":-0.0085},{"w":8564,"d":-0.013},{"w":8610,"d":-0.0292},{"w":8633,"d":-0.0065},
{"w":8571,"d":-0.0065},{"w":8279,"d":-0.0051},{"w":8291,"d":-0.0048},{"w":8321,"d":-0.0044},{"w":8383,"d":-0.0051}]
},
"columns":2,
"spacing":{"row":46,"column":36},
"bounds":"flush",
"concat":[
{"width":231,"height":194,"title":{"text":"HITRAN2020","offset":16,"anchor":"middle"},
"layer":[
{"data":{"name":"a"},"mark":{"type":"point","color":"#1c1cd4","size":42,"strokeWidth":1,"opacity":1},
"encoding":{"x":{"field":"w","type":"quantitative","scale":{"domain":[8000,8650],"nice":false,"zero":false},"axis":{"orient":"bottom","title":null,"values":[8000,8100,8200,8300,8400,8500,8600],"labelExpr":"datum.value % 200 === 0 ? format(datum.value, 'd') : ''","tickSize":{"condition":{"test":"datum.value % 200 === 0","value":5},"value":3},"labelPadding":1,"labelFlush":false,"labelOverlap":false}},
"y":{"field":"d","type":"quantitative","scale":{"domain":[-0.05,0.05],"nice":false,"zero":false},"axis":{"orient":"left","title":null,"values":[-0.04,-0.03,-0.02,-0.01,0,0.01,0.02,0.03,0.04],"labelExpr":"abs(round(datum.value*100)) % 2 === 0 ? replace(format(datum.value, '.2f'), '\u2212', '-') : ''","tickSize":{"condition":{"test":"abs(round(datum.value*100)) % 2 === 0","value":5},"value":3},"labelPadding":1,"labelOverlap":false}}}},
{"data":{"values":[{}]},"mark":{"type":"point","opacity":0},
"encoding":{"x":{"datum":8000,"type":"quantitative","scale":{"domain":[8000,8650],"nice":false,"zero":false},"axis":{"orient":"top","title":null,"labels":false,"values":[8000,8100,8200,8300,8400,8500,8600],"tickSize":{"condition":{"test":"datum.value % 200 === 0","value":5},"value":3}}},
"y":{"datum":0,"type":"quantitative","axis":{"orient":"right","title":null,"labels":false,"values":[-0.04,-0.03,-0.02,-0.01,0,0.01,0.02,0.03,0.04],"tickSize":{"condition":{"test":"abs(round(datum.value*100)) % 2 === 0","value":5},"value":3}}}}}
],
"resolve":{"axis":{"x":"independent","y":"independent"}}},
{"width":228,"height":194,"title":{"text":"W2020","offset":16,"anchor":"middle"},
"layer":[
{"data":{"name":"b"},"mark":{"type":"point","color":"#1c1cd4","size":42,"strokeWidth":1,"opacity":1},
"encoding":{"x":{"field":"w","type":"quantitative","scale":{"domain":[8000,8700],"nice":false,"zero":false},"axis":{"orient":"bottom","title":null,"values":[8000,8100,8200,8300,8400,8500,8600,8700],"labelExpr":"datum.value % 200 === 0 ? format(datum.value, 'd') : ''","tickSize":{"condition":{"test":"datum.value % 200 === 0","value":5},"value":3},"labelPadding":1,"labelFlush":false,"labelOverlap":false}},
"y":{"field":"d","type":"quantitative","scale":{"domain":[-0.05,0.05],"nice":false,"zero":false},"axis":{"orient":"right","title":null,"values":[-0.04,-0.03,-0.02,-0.01,0,0.01,0.02,0.03,0.04],"labelExpr":"abs(round(datum.value*100)) % 2 === 0 ? replace(format(datum.value, '.2f'), '\u2212', '-') : ''","tickSize":{"condition":{"test":"abs(round(datum.value*100)) % 2 === 0","value":5},"value":3},"labelAlign":"center","labelPadding":20,"labelOverlap":false}}}},
{"data":{"values":[{}]},"mark":{"type":"point","opacity":0},
"encoding":{"x":{"datum":8000,"type":"quantitative","axis":{"orient":"top","title":null,"labels":false,"values":[8000,8100,8200,8300,8400,8500,8600,8700],"tickSize":{"condition":{"test":"datum.value % 200 === 0","value":5},"value":3}}},
"y":{"datum":0,"type":"quantitative","axis":{"orient":"left","title":null,"labels":false,"values":[-0.04,-0.03,-0.02,-0.01,0,0.01,0.02,0.03,0.04],"tickSize":{"condition":{"test":"abs(round(datum.value*100)) % 2 === 0","value":5},"value":3}}}}},
{"data":{"values":[{}]},"mark":{"type":"rect","color":"black"},"encoding":{"x":{"datum":7828,"type":"quantitative","axis":null},"x2":{"datum":8110},"y":{"datum":0.0407,"type":"quantitative","axis":null},"y2":{"datum":0.0093}}},
{"data":{"values":[{}]},"mark":{"type":"rect","fill":"white","stroke":"#c8c8c8","strokeWidth":1},"encoding":{"x":{"datum":7807,"type":"quantitative","axis":null},"x2":{"datum":8089},"y":{"datum":0.0443,"type":"quantitative","axis":null},"y2":{"datum":0.0129}}},
{"data":{"values":[{}]},"mark":{"type":"text","text":"H","fontSize":28,"font":"Liberation Sans","align":"left","baseline":"alphabetic","color":"#1212e0"},"encoding":{"x":{"datum":7843,"type":"quantitative","axis":null},"y":{"datum":0.0242,"type":"quantitative","axis":null}}},
{"data":{"values":[{}]},"mark":{"type":"text","text":"2","fontSize":15,"font":"Liberation Sans","align":"left","baseline":"alphabetic","color":"#1212e0"},"encoding":{"x":{"datum":7905,"type":"quantitative","axis":null},"y":{"datum":0.0186,"type":"quantitative","axis":null}}},
{"data":{"values":[{}]},"mark":{"type":"text","text":"16","fontSize":15,"font":"Liberation Sans","align":"left","baseline":"alphabetic","color":"#1212e0"},"encoding":{"x":{"datum":7939,"type":"quantitative","axis":null},"y":{"datum":0.0325,"type":"quantitative","axis":null}}},
{"data":{"values":[{}]},"mark":{"type":"text","text":"O","fontSize":28,"font":"Liberation Sans","align":"left","baseline":"alphabetic","color":"#1212e0"},"encoding":{"x":{"datum":7988,"type":"quantitative","axis":null},"y":{"datum":0.0242,"type":"quantitative","axis":null}}}
],
"resolve":{"axis":{"x":"independent","y":"independent"}}},
{"width":231,"height":194,
"layer":[
{"data":{"name":"c"},"mark":{"type":"point","color":"black","size":42,"strokeWidth":1,"opacity":1},
"encoding":{"x":{"field":"w","type":"quantitative","scale":{"domain":[8000,8700],"nice":false,"zero":false},"axis":{"orient":"bottom","title":null,"values":[8000,8100,8200,8300,8400,8500,8600,8700],"labelExpr":"datum.value % 200 === 0 ? format(datum.value, 'd') : ''","tickSize":{"condition":{"test":"datum.value % 200 === 0","value":5},"value":3},"labelPadding":1,"labelFlush":false,"labelOverlap":false}},
"y":{"field":"d","type":"quantitative","scale":{"domain":[-0.05,0.05],"nice":false,"zero":false},"axis":{"orient":"left","title":null,"values":[-0.04,-0.03,-0.02,-0.01,0,0.01,0.02,0.03,0.04],"labelExpr":"abs(round(datum.value*100)) % 2 === 0 ? replace(format(datum.value, '.2f'), '\u2212', '-') : ''","tickSize":{"condition":{"test":"abs(round(datum.value*100)) % 2 === 0","value":5},"value":3},"labelPadding":1,"labelOverlap":false}}}},
{"data":{"values":[{}]},"mark":{"type":"point","opacity":0},
"encoding":{"x":{"datum":8000,"type":"quantitative","axis":{"orient":"top","title":null,"labels":false,"values":[8000,8100,8200,8300,8400,8500,8600,8700],"tickSize":{"condition":{"test":"datum.value % 200 === 0","value":5},"value":3}}},
"y":{"datum":0,"type":"quantitative","axis":{"orient":"right","title":null,"labels":false,"values":[-0.04,-0.03,-0.02,-0.01,0,0.01,0.02,0.03,0.04],"tickSize":{"condition":{"test":"abs(round(datum.value*100)) % 2 === 0","value":5},"value":3}}}}}
],
"resolve":{"axis":{"x":"independent","y":"independent"}}},
{"width":228,"height":194,
"layer":[
{"data":{"name":"d"},"mark":{"type":"point","color":"black","size":42,"strokeWidth":1,"opacity":1},
"encoding":{"x":{"field":"w","type":"quantitative","scale":{"domain":[8000,8700],"nice":false,"zero":false},"axis":{"orient":"bottom","title":null,"values":[8000,8100,8200,8300,8400,8500,8600,8700],"labelExpr":"datum.value % 200 === 0 ? format(datum.value, 'd') : ''","tickSize":{"condition":{"test":"datum.value % 200 === 0","value":5},"value":3},"labelPadding":1,"labelFlush":false,"labelOverlap":false}},
"y":{"field":"d","type":"quantitative","scale":{"domain":[-0.05,0.05],"nice":false,"zero":false},"axis":{"orient":"right","title":null,"values":[-0.04,-0.03,-0.02,-0.01,0,0.01,0.02,0.03,0.04],"labelExpr":"abs(round(datum.value*100)) % 2 === 0 ? replace(format(datum.value, '.2f'), '\u2212', '-') : ''","tickSize":{"condition":{"test":"abs(round(datum.value*100)) % 2 === 0","value":5},"value":3},"labelAlign":"center","labelPadding":20,"labelOverlap":false}}}},
{"data":{"values":[{}]},"mark":{"type":"point","opacity":0},
"encoding":{"x":{"datum":8000,"type":"quantitative","axis":{"orient":"top","title":null,"labels":false,"values":[8000,8100,8200,8300,8400,8500,8600,8700],"tickSize":{"condition":{"test":"datum.value % 200 === 0","value":5},"value":3}}},
"y":{"datum":0,"type":"quantitative","axis":{"orient":"left","title":null,"labels":false,"values":[-0.04,-0.03,-0.02,-0.01,0,0.01,0.02,0.03,0.04],"tickSize":{"condition":{"test":"abs(round(datum.value*100)) % 2 === 0","value":5},"value":3}}}}},
{"data":{"values":[{}]},"mark":{"type":"rect","color":"black"},"encoding":{"x":{"datum":7840,"type":"quantitative","axis":null},"x2":{"datum":8123},"y":{"datum":0.0387,"type":"quantitative","axis":null},"y2":{"datum":0.0072}}},
{"data":{"values":[{}]},"mark":{"type":"rect","fill":"white","stroke":"#c8c8c8","strokeWidth":1},"encoding":{"x":{"datum":7819,"type":"quantitative","axis":null},"x2":{"datum":8101},"y":{"datum":0.0423,"type":"quantitative","axis":null},"y2":{"datum":0.0108}}},
{"data":{"values":[{}]},"mark":{"type":"text","text":"H","fontSize":28,"font":"Liberation Sans","align":"left","baseline":"alphabetic","color":"black"},"encoding":{"x":{"datum":7856,"type":"quantitative","axis":null},"y":{"datum":0.0222,"type":"quantitative","axis":null}}},
{"data":{"values":[{}]},"mark":{"type":"text","text":"2","fontSize":15,"font":"Liberation Sans","align":"left","baseline":"alphabetic","color":"black"},"encoding":{"x":{"datum":7917,"type":"quantitative","axis":null},"y":{"datum":0.0165,"type":"quantitative","axis":null}}},
{"data":{"values":[{}]},"mark":{"type":"text","text":"18","fontSize":15,"font":"Liberation Sans","align":"left","baseline":"alphabetic","color":"black"},"encoding":{"x":{"datum":7951,"type":"quantitative","axis":null},"y":{"datum":0.0304,"type":"quantitative","axis":null}}},
{"data":{"values":[{}]},"mark":{"type":"text","text":"O","fontSize":28,"font":"Liberation Sans","align":"left","baseline":"alphabetic","color":"black"},"encoding":{"x":{"datum":8000,"type":"quantitative","axis":null},"y":{"datum":0.0222,"type":"quantitative","axis":null}}}
],
"resolve":{"axis":{"x":"independent","y":"independent"}}},
{"width":231,"height":194,
"layer":[
{"data":{"name":"e"},"mark":{"type":"point","color":"#168a8a","size":42,"strokeWidth":1,"opacity":1},
"encoding":{"x":{"field":"w","type":"quantitative","scale":{"domain":[8000,8700],"nice":false,"zero":false},"axis":{"orient":"bottom","title":"Wavenmber (cm\u207b\u00b9)","titlePadding":18,"values":[8000,8100,8200,8300,8400,8500,8600,8700],"labelExpr":"datum.value % 200 === 0 ? format(datum.value, 'd') : ''","tickSize":{"condition":{"test":"datum.value % 200 === 0","value":5},"value":3},"labelPadding":1,"labelFlush":false,"labelOverlap":false}},
"y":{"field":"d","type":"quantitative","scale":{"domain":[-0.05,0.05],"nice":false,"zero":false},"axis":{"orient":"left","title":null,"values":[-0.04,-0.03,-0.02,-0.01,0,0.01,0.02,0.03,0.04],"labelExpr":"abs(round(datum.value*100)) % 2 === 0 ? replace(format(datum.value, '.2f'), '\u2212', '-') : ''","tickSize":{"condition":{"test":"abs(round(datum.value*100)) % 2 === 0","value":5},"value":3},"labelPadding":1,"labelOverlap":false}}}},
{"data":{"values":[{}]},"mark":{"type":"point","opacity":0},
"encoding":{"x":{"datum":8000,"type":"quantitative","axis":{"orient":"top","title":null,"labels":false,"values":[8000,8100,8200,8300,8400,8500,8600,8700],"tickSize":{"condition":{"test":"datum.value % 200 === 0","value":5},"value":3}}},
"y":{"datum":0,"type":"quantitative","axis":{"orient":"right","title":null,"labels":false,"values":[-0.04,-0.03,-0.02,-0.01,0,0.01,0.02,0.03,0.04],"tickSize":{"condition":{"test":"abs(round(datum.value*100)) % 2 === 0","value":5},"value":3}}}}}
],
"resolve":{"axis":{"x":"independent","y":"independent"}}},
{"width":228,"height":194,
"layer":[
{"data":{"name":"f"},"mark":{"type":"point","color":"#168a8a","size":42,"strokeWidth":1,"opacity":1},
"encoding":{"x":{"field":"w","type":"quantitative","scale":{"domain":[8000,8700],"nice":false,"zero":false},"axis":{"orient":"bottom","title":"Wavenmber (cm\u207b\u00b9)","titlePadding":18,"values":[8000,8100,8200,8300,8400,8500,8600,8700],"labelExpr":"datum.value % 200 === 0 ? format(datum.value, 'd') : ''","tickSize":{"condition":{"test":"datum.value % 200 === 0","value":5},"value":3},"labelPadding":1,"labelFlush":false,"labelOverlap":false}},
"y":{"field":"d","type":"quantitative","scale":{"domain":[-0.05,0.05],"nice":false,"zero":false},"axis":{"orient":"right","title":null,"values":[-0.04,-0.03,-0.02,-0.01,0,0.01,0.02,0.03,0.04],"labelExpr":"abs(round(datum.value*100)) % 2 === 0 ? replace(format(datum.value, '.2f'), '\u2212', '-') : ''","tickSize":{"condition":{"test":"abs(round(datum.value*100)) % 2 === 0","value":5},"value":3},"labelAlign":"center","labelPadding":20,"labelOverlap":false}}}},
{"data":{"values":[{}]},"mark":{"type":"point","opacity":0},
"encoding":{"x":{"datum":8000,"type":"quantitative","axis":{"orient":"top","title":null,"labels":false,"values":[8000,8100,8200,8300,8400,8500,8600,8700],"tickSize":{"condition":{"test":"datum.value % 200 === 0","value":5},"value":3}}},
"y":{"datum":0,"type":"quantitative","axis":{"orient":"left","title":null,"labels":false,"values":[-0.04,-0.03,-0.02,-0.01,0,0.01,0.02,0.03,0.04],"tickSize":{"condition":{"test":"abs(round(datum.value*100)) % 2 === 0","value":5},"value":3}}}}},
{"data":{"values":[{}]},"mark":{"type":"rect","color":"black"},"encoding":{"x":{"datum":7837,"type":"quantitative","axis":null},"x2":{"datum":8120},"y":{"datum":0.0418,"type":"quantitative","axis":null},"y2":{"datum":0.0103}}},
{"data":{"values":[{}]},"mark":{"type":"rect","fill":"white","stroke":"#c8c8c8","strokeWidth":1},"encoding":{"x":{"datum":7816,"type":"quantitative","axis":null},"x2":{"datum":8098},"y":{"datum":0.0454,"type":"quantitative","axis":null},"y2":{"datum":0.0139}}},
{"data":{"values":[{}]},"mark":{"type":"text","text":"H","fontSize":28,"font":"Liberation Sans","align":"left","baseline":"alphabetic","color":"#168a8a"},"encoding":{"x":{"datum":7853,"type":"quantitative","axis":null},"y":{"datum":0.0253,"type":"quantitative","axis":null}}},
{"data":{"values":[{}]},"mark":{"type":"text","text":"2","fontSize":15,"font":"Liberation Sans","align":"left","baseline":"alphabetic","color":"#168a8a"},"encoding":{"x":{"datum":7914,"type":"quantitative","axis":null},"y":{"datum":0.0196,"type":"quantitative","axis":null}}},
{"data":{"values":[{}]},"mark":{"type":"text","text":"17","fontSize":15,"font":"Liberation Sans","align":"left","baseline":"alphabetic","color":"#168a8a"},"encoding":{"x":{"datum":7948,"type":"quantitative","axis":null},"y":{"datum":0.0335,"type":"quantitative","axis":null}}},
{"data":{"values":[{}]},"mark":{"type":"text","text":"O","fontSize":28,"font":"Liberation Sans","align":"left","baseline":"alphabetic","color":"#168a8a"},"encoding":{"x":{"datum":7997,"type":"quantitative","axis":null},"y":{"datum":0.0253,"type":"quantitative","axis":null}}}
],
"resolve":{"axis":{"x":"independent","y":"independent"}}}
]
}
